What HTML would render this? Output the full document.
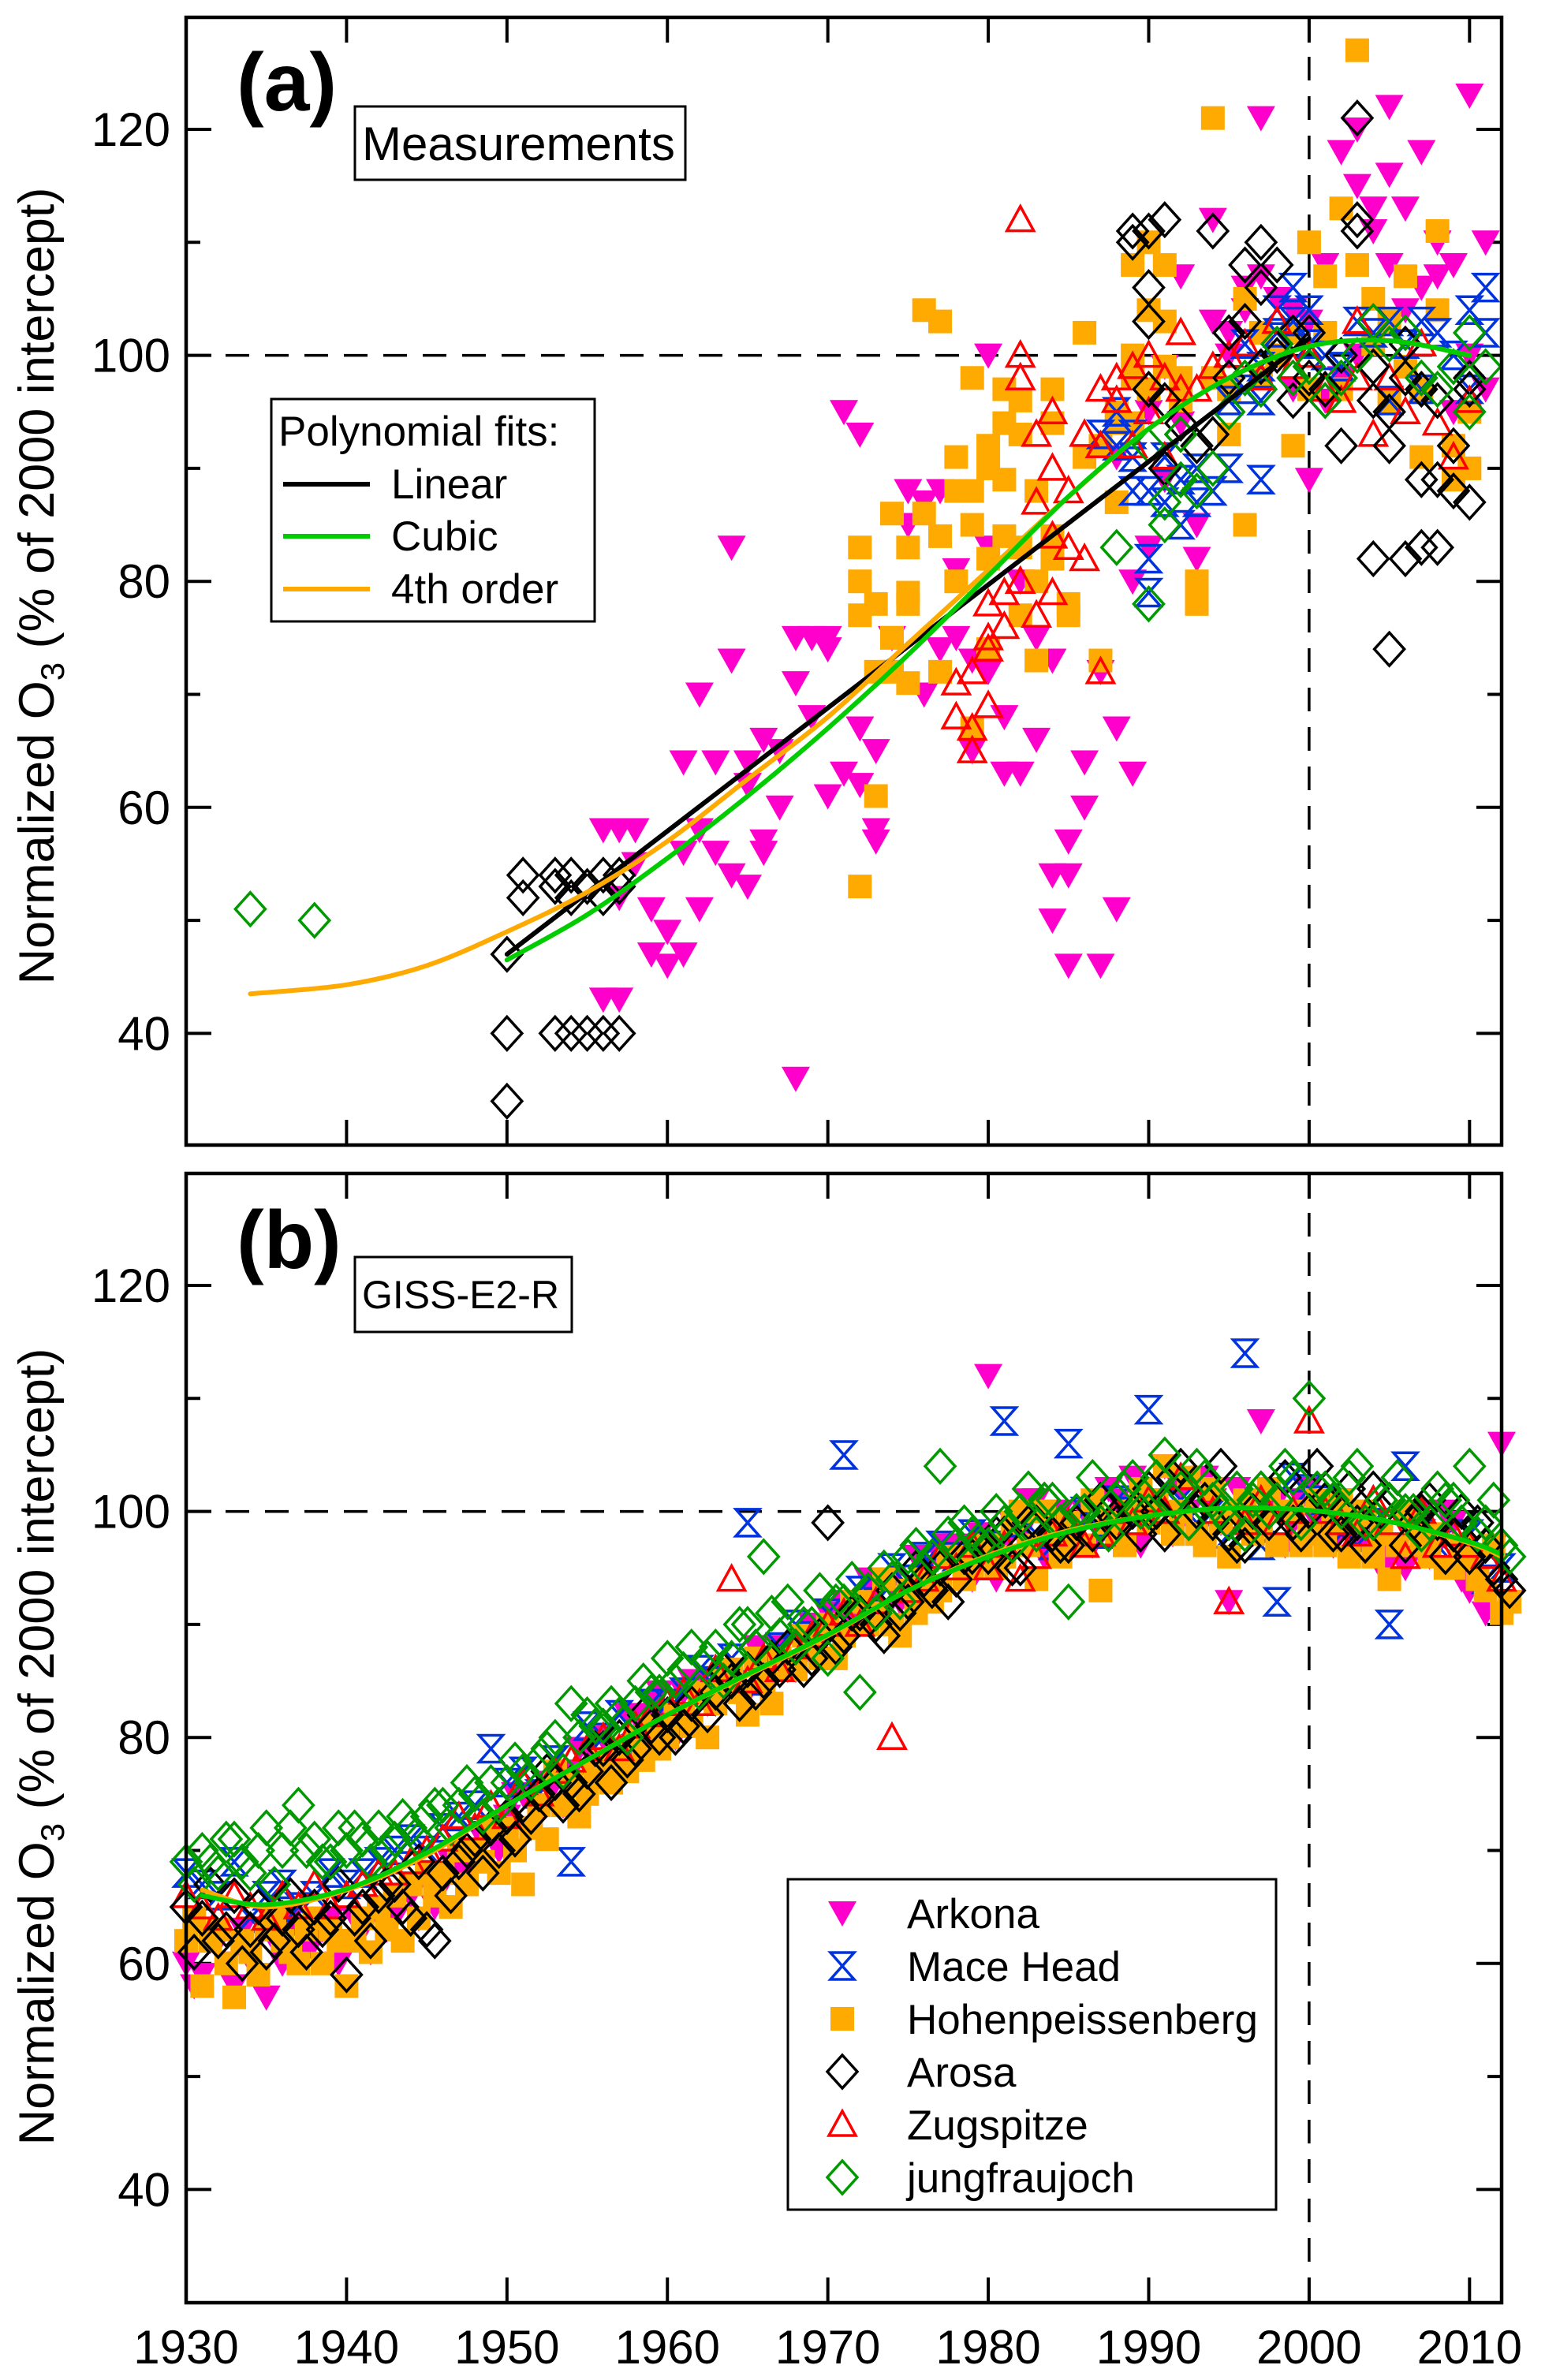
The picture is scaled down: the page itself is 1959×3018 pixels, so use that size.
<!DOCTYPE html>
<html><head><meta charset="utf-8"><style>
html,body{margin:0;padding:0;background:#fff;}
svg{display:block;}
text{font-family:"Liberation Sans",sans-serif;}
</style></head><body>
<svg id="fig" xmlns="http://www.w3.org/2000/svg" width="1959" height="3018" viewBox="0 0 1959 3018">
<rect x="0" y="0" width="1959" height="3018" fill="#fff"/>
<g id="panelA"></g>
<g id="panelB"></g>
<g id="fixed">
  <text x="300" y="140" font-size="104" font-weight="bold">(a)</text>
  <rect x="450" y="135" width="419" height="93" fill="#fff" stroke="#000" stroke-width="3"/>
  <text x="459" y="203" font-size="60">Measurements</text>
  <text x="300" y="1608" font-size="104" font-weight="bold">(b)</text>
  <rect x="450" y="1594" width="275" height="95" fill="#fff" stroke="#000" stroke-width="3"/>
  <text x="459" y="1659" font-size="50">GISS-E2-R</text>
  <text transform="translate(68,743) rotate(-90)" text-anchor="middle" font-size="63">Normalized O<tspan font-size="42" dy="13">3</tspan><tspan dy="-13"> (% of 2000 intercept)</tspan></text>
  <text transform="translate(68,2215) rotate(-90)" text-anchor="middle" font-size="63">Normalized O<tspan font-size="42" dy="13">3</tspan><tspan dy="-13"> (% of 2000 intercept)</tspan></text>
  <g>
    <rect x="344" y="506" width="410" height="282" fill="#fff" stroke="#000" stroke-width="3"/>
    <text x="353" y="565" font-size="53">Polynomial fits:</text>
    <line x1="359" y1="614" x2="469" y2="614" stroke="#000" stroke-width="6"/>
    <text x="496" y="632" font-size="53">Linear</text>
    <line x1="359" y1="680" x2="469" y2="680" stroke="#00cc00" stroke-width="6"/>
    <text x="496" y="698" font-size="53">Cubic</text>
    <line x1="359" y1="747" x2="469" y2="747" stroke="#ffaa00" stroke-width="6"/>
    <text x="496" y="765" font-size="53">4th order</text>
  </g>
  <g id="stLegend">
    <rect x="999" y="2383" width="619" height="419" fill="#fff" stroke="#000" stroke-width="3"/>
    <text x="1150" y="2445" font-size="53">Arkona</text>
    <text x="1150" y="2512" font-size="53">Mace Head</text>
    <text x="1150" y="2579" font-size="53">Hohenpeissenberg</text>
    <text x="1150" y="2646" font-size="53">Arosa</text>
    <text x="1150" y="2713" font-size="53">Zugspitze</text>
    <text x="1150" y="2780" font-size="53">jungfraujoch</text>
  </g>
</g>
</svg>
<script>
// ---------- Panel (a) measurement data: [year, value] ----------
const arkonaA = [[1956,43],[1957,43],[1956,58],[1957,58],[1958,58],[1957,52],[1958,55],[1959,47],[1959,51],[1960,46],[1960,49],[1961,47],[1961,56],[1961,64],[1962,51],[1962,58],[1962,70],[1963,64],[1963,56],[1964,73],[1964,54],[1965,53],[1965,64],[1965,62],[1966,57],[1966,66],[1966,56],[1964,83],[1967,60],[1967,65],[1968,36],[1968,75],[1968,71],[1969,75],[1969,68],[1970,61],[1970,74],[1970,75],[1971,63],[1971,95],[1972,93],[1972,67],[1972,62],[1973,57],[1973,65],[1973,58],[1974,75],[1975,88],[1975,85],[1976,87],[1976,70],[1977,88],[1977,74],[1978,75],[1978,81],[1979,73],[1979,65],[1980,100],[1980,83],[1980,72],[1981,68],[1981,63],[1982,63],[1982,80],[1983,66],[1983,75],[1984,73],[1984,54],[1984,50],[1985,57],[1985,46],[1985,54],[1986,64],[1986,60],[1987,46],[1987,72],[1988,51],[1988,67],[1988,91],[1989,80],[1989,63],[1990,95],[1990,83],[1991,99],[1991,89],[1992,107],[1992,94],[1993,82],[1993,85],[1994,112],[1994,103],[1995,100],[1995,102],[1996,104],[1996,106],[1997,107],[1997,121],[1998,105],[1998,100],[1999,104],[1999,97],[2000,89],[2000,103],[2001,108],[2001,96],[2002,98],[2002,118],[2003,100],[2003,120],[2003,115],[2004,113],[2004,111],[2005,116],[2005,122],[2005,108],[2006,113],[2006,104],[2007,106],[2007,118],[2008,110],[2008,107],[2009,108],[2009,95],[2010,100],[2010,123],[2011,110],[2011,97]];
const hohenA = [[1972,53],[1973,61],[1972,77],[1972,80],[1972,83],[1973,78],[1973,72],[1974,86],[1974,72],[1974,75],[1975,78],[1975,83],[1975,79],[1975,71],[1976,104],[1976,86],[1977,103],[1977,84],[1977,72],[1978,80],[1978,91],[1978,88],[1979,88],[1979,85],[1979,98],[1979,67],[1980,92],[1980,82],[1980,90],[1980,74],[1981,84],[1981,94],[1981,97],[1981,89],[1982,77],[1982,93],[1982,96],[1982,83],[1983,88],[1983,80],[1983,73],[1984,82],[1984,84],[1984,94],[1984,97],[1985,77],[1985,78],[1986,102],[1986,91],[1987,92],[1987,73],[1988,95],[1988,87],[1988,94],[1989,108],[1989,98],[1989,94],[1989,100],[1990,110],[1990,104],[1990,97],[1991,108],[1991,103],[1991,99],[1992,98],[1992,96],[1993,80],[1993,78],[1994,121],[1994,98],[1995,97],[1995,93],[1996,85],[1996,105],[1997,98],[1997,102],[1998,100],[1999,102],[1999,92],[2000,110],[2000,97],[2001,107],[2001,102],[2002,113],[2002,97],[2003,127],[2003,108],[2004,105],[2004,101],[2005,103],[2005,96],[2006,107],[2006,99],[2007,97],[2007,91],[2008,111],[2008,104],[2009,92],[2009,89],[2010,95],[2010,90]];
const maceA = [[1987,93],[1988,95],[1988,92],[1989,91],[1989,88],[1989,93],[1990,82],[1990,79],[1990,88],[1991,91],[1991,87],[1992,89],[1992,85],[1993,90],[1993,87],[1994,88],[1995,90],[1995,96],[1996,101],[1996,97],[1997,96],[1997,99],[1997,89],[1998,104],[1998,102],[1999,106],[1999,103],[2000,101],[2000,104],[2001,100],[2002,99],[2003,103],[2004,102],[2005,103],[2005,96],[2006,101],[2007,103],[2007,97],[2008,102],[2009,100],[2010,104],[2010,97],[2011,106],[2011,102]];
const zugA = [[1978,68],[1978,71],[1979,72],[1979,67],[1979,65],[1980,78],[1980,74],[1980,69],[1980,75],[1981,76],[1981,79],[1982,112],[1982,100],[1982,98],[1982,80],[1983,93],[1983,87],[1983,77],[1984,95],[1984,90],[1984,79],[1984,84],[1985,88],[1985,83],[1986,93],[1986,82],[1987,97],[1987,92],[1987,72],[1988,98],[1988,96],[1989,99],[1989,92],[1990,95],[1990,100],[1991,98],[1991,91],[1992,102],[1992,97],[1993,97],[1994,99],[1995,100],[1996,101],[1997,98],[1998,103],[1999,99],[2000,100],[2001,97],[2002,96],[2003,98],[2003,103],[2004,93],[2005,98],[2006,95],[2007,101],[2008,94],[2009,91],[2010,96]];
const arosaA = [[1950,47],[1950,40],[1950,34],[1951,54],[1951,52],[1953,54],[1953,53],[1953,40],[1954,54],[1954,52],[1954,40],[1955,53],[1955,40],[1956,54],[1956,52],[1956,40],[1957,54],[1957,53],[1957,40],[1989,111],[1989,110],[1990,111],[1990,106],[1990,103],[1990,97],[1991,112],[1991,96],[1991,90],[1992,94],[1992,93],[1993,92],[1994,111],[1994,93],[1995,102],[1995,98],[1996,108],[1996,103],[1997,110],[1997,106],[1997,99],[1998,108],[1998,100],[1999,102],[1999,96],[2000,102],[2000,98],[2001,97],[2001,96],[2002,92],[2002,100],[2003,121],[2003,111],[2003,112],[2004,99],[2004,96],[2005,95],[2005,92],[2005,74],[2006,101],[2006,98],[2006,82],[2007,97],[2007,89],[2007,83],[2008,96],[2008,83],[2008,89],[2009,92],[2009,88],[2010,87],[2010,97],[2010,98],[2004,82]];
const jungA = [[1934,51],[1938,50],[1988,83],[1990,78],[1990,92],[1991,87],[1991,85],[1992,93],[1992,89],[1993,88],[1994,90],[1995,95],[1996,98],[1997,97],[1998,101],[1999,98],[2000,99],[2001,96],[2002,98],[2003,100],[2004,103],[2005,101],[2006,102],[2007,98],[2008,97],[2009,99],[2010,102],[2010,95],[2011,99]];
// Panel (a) fits
const linYearsA = [1950, 2000];
const linValsA = [47, 101.5];
const cubYearsA = [1950,1955,1960,1965,1970,1975,1980,1985,1990,1995,2000,2005,2010];
const cubValsA = [46.5,50.5,55.5,61,67,73.5,80.5,87.5,93.5,98,100.8,101.3,100];
const q4YearsA = [1934,1940,1945,1950,1955,1960,1965,1970,1975,1980,1985,1990,1995,2000,2005,2010];
const q4ValsA = [43.5,44.3,46,49,52.5,57,62.5,68,74.5,81,87.5,93.5,98,100.8,101.3,100];

// ---------- Panel (b) model data: values per year 1930..2012 ----------
const yearStartB = 1930;
const arkonaB = [60,59,62,58,61,57,60,63,62,64, 62,63,65,64,66,68,67,69,70,72, 73,75,74,76,77,79,80,78,82,83, 82,84,85,83,86,84,87,88,86,90, 91,92,90,93,94,92,95,96,97,94, 112,97,98,101,99,97,100,98,101,103, 99,104,102,98,101,92,100,108,101,99, 102,100,101,97,98,96,95,100,97,99, 93,91,106];
const arkonaB2 = [58,62,60,63,59,62,64,61,63,60, 64,61,63,66,64,65,69,68,71,70, 75,72,76,74,79,76,78,82,80,84, 80,85,83,86,84,88,85,86,89,88, 89,90,94,91,92,96,93,97,95,98, 94,99,101,96,100,98,97,102,99,97, 101,98,100,103,99,102,98,100,97,101, 99,97,100,98,95,97,98,96,100,94, 96,97,92];
const maceB = [68,67,66,69,64,66,67,65,66,68, 67,68,69,70,71,70,72,73,74,79, 76,77,75,78,69,81,80,82,79,83, 83,84,86,85,87,99,85,88,90,89, 91,105,93,92,95,94,96,97,96,98, 97,108,99,98,97,106,100,98,101,100, 109,102,101,99,100,98,114,97,92,103, 102,101,98,97,99,90,104,98,97,96, 98,94,95];
const hohenB = [62,58,63,57,61,63,62,60,64,63, 58,64,65,66,67,68,68,70,70,72, 72,67,74,77,76,75,78,79,80,81, 80,82,84,83,86,82,85,87,86,88, 90,89,92,91,90,93,94,93,96,95, 97,96,100,94,98,99,97,93,98,100, 99,104,100,98,102,96,101,99,97,100, 98,97,101,99,96,94,100,97,98,95, 96,93,91];
const hohenB2 = [64,62,60,62,59,64,61,63,60,62, 62,61,63,62,64,66,65,67,69,68, 70,72,71,74,73,77,76,77,78,79, 82,81,80,85,84,87,83,86,89,87, 87,92,90,94,89,91,92,96,94,97, 95,99,97,100,96,97,101,99,97,102, 101,98,103,97,99,100,98,102,100,97, 101,99,96,100,98,97,99,96,95,97, 94,97,92];
const arosaB = [65,64,62,66,63,61,64,63,65,64, 59,65,66,67,64,63,68,69,71,72, 73,74,75,76,76,77,79,80,79,81, 82,81,84,84,85,86,85,86,88,87, 99,89,91,90,93,92,94,95,94,96, 96,98,95,99,98,97,100,101,99,100, 102,98,104,100,99,98,97,102,101,99, 100,101,98,99,102,101,97,100,99,98, 96,97,94];
const arosaB2 = [61,67,63,60,65,62,66,61,63,67, 64,62,67,65,69,62,66,70,68,70, 71,73,77,74,75,79,76,78,82,80, 80,83,82,86,83,84,87,88,86,89, 88,91,93,89,91,95,93,92,96,97, 98,95,99,101,97,99,98,100,102,98, 100,103,99,101,104,97,100,99,103,98, 104,98,102,97,100,103,99,101,96,100, 99,95,93];
const zugB = [66,65,64,66,65,64,66,65,67,65, 66,67,68,68,69,70,71,73,72,74, 73,76,75,77,78,79,80,79,81,82, 83,84,83,86,94,85,87,86,88,89, 90,91,90,92,80,93,94,96,95,97, 95,97,94,96,98,99,97,98,100,99, 101,100,103,101,100,92,99,101,99,100, 108,100,99,98,101,99,96,100,97,98, 97,96,94];
const jungB = [69,70,68,71,68,72,70,74,71,69, 70,71,72,71,72,73,74,74,75,76, 76,77,78,80,83,82,81,82,83,84, 87,86,84,88,87,90,96,89,88,90, 87,92,84,91,94,96,95,104,97,98, 97,99,100,98,101,92,100,99,101,103, 100,105,102,104,101,99,98,102,101,103, 110,102,100,104,99,101,100,98,102,101, 104,99,97];
const jungB2 = [67,69,71,69,70,67,72,70,69,72, 72,69,70,73,71,74,72,76,73,74, 78,76,79,77,80,81,83,80,85,84, 85,88,87,85,90,88,91,92,90,93, 92,94,93,95,92,97,96,98,99,97, 100,97,102,101,99,100,103,98,102,100, 103,101,99,103,100,102,101,100,104,99, 102,101,103,99,101,103,100,99,101,99, 98,101,96];
const fitYearsB = [1931,1935,1940,1945,1950,1955,1960,1965,1970,1975,1980,1985,1990,1995,2000,2005,2010,2012];
const q4ValsB = [66.5,65,66.5,69.6,74,78,82,85.5,89,93,96.1,98.3,99.6,100.3,100.1,99.1,97.2,96];
const cubValsB = [66,65.2,66.6,69.8,74,78,82,85.6,89.1,93,96,98.2,99.6,100.3,100.1,99.1,97.3,96.2];

const xTicks = [1930,1940,1950,1960,1970,1980,1990,2000,2010];
const yTicks = [40,60,80,100,120];
const yMinor = [30,50,70,90,110,130];

// ---------- axes ----------
const NS = 'http://www.w3.org/2000/svg';
const X0 = 236, X1 = 1904, YEAR0 = 1930, PXY = (X1 - X0) / 82;
function xs(yr){ return X0 + (yr - YEAR0) * PXY; }
const PXV = 14.33;
const panels = {
  a: {top: 22, bottom: 1452, y120: 164, g: document.getElementById('panelA')},
  b: {top: 1488, bottom: 2920, y120: 1630, g: document.getElementById('panelB')}
};
function ys(p, v){ return panels[p].y120 + (120 - v) * PXV; }
function mk(tag, attrs, parent){
  const e = document.createElementNS(NS, tag);
  for (const k in attrs) e.setAttribute(k, attrs[k]);
  parent.appendChild(e);
  return e;
}

function drawMarker(kind, x, y, parent){
  let e;
  if (kind === 'arkona'){
    e = mk('polygon', {points: `${x-18},${y-15} ${x+18},${y-15} ${x},${y+17}`, fill: '#ff00cc'}, parent);
  } else if (kind === 'mace'){
    e = mk('polygon', {points: `${x-15},${y-17} ${x+15},${y-17} ${x-15},${y+17} ${x+15},${y+17}`, fill: 'none', stroke: '#0033dd', 'stroke-width': 3.5}, parent);
  } else if (kind === 'hohen'){
    e = mk('rect', {x: x-15, y: y-15, width: 30, height: 30, fill: '#ffaa00'}, parent);
  } else if (kind === 'arosa'){
    e = mk('polygon', {points: `${x},${y-21} ${x+19},${y} ${x},${y+21} ${x-19},${y}`, fill: 'none', stroke: '#000', 'stroke-width': 3.5}, parent);
  } else if (kind === 'zug'){
    e = mk('polygon', {points: `${x},${y-17} ${x+17},${y+14} ${x-17},${y+14}`, fill: 'none', stroke: '#ff0000', 'stroke-width': 3.5}, parent);
  } else {
    e = mk('polygon', {points: `${x},${y-21} ${x+19},${y} ${x},${y+21} ${x-19},${y}`, fill: 'none', stroke: '#009900', 'stroke-width': 3.5}, parent);
  }
  return e;
}

function smoothPath(pts){
  let d = `M${pts[0][0]},${pts[0][1]}`;
  for (let i = 0; i < pts.length - 1; i++){
    const p0 = pts[Math.max(0, i-1)], p1 = pts[i], p2 = pts[i+1], p3 = pts[Math.min(pts.length-1, i+2)];
    const c1x = p1[0] + (p2[0]-p0[0])/6, c1y = p1[1] + (p2[1]-p0[1])/6;
    const c2x = p2[0] - (p3[0]-p1[0])/6, c2y = p2[1] - (p3[1]-p1[1])/6;
    d += ` C${c1x},${c1y} ${c2x},${c2y} ${p2[0]},${p2[1]}`;
  }
  return d;
}

function drawAxes(p){
  const P = panels[p], g = P.g;
  const h = mk('line', {x1: X0, x2: X1, y1: ys(p,100), y2: ys(p,100), stroke: '#000', 'stroke-width': 3.5, 'stroke-dasharray': '30 20'}, g);
  
  
  const v = mk('line', {x1: xs(2000), x2: xs(2000), y1: P.top, y2: P.bottom, stroke: '#000', 'stroke-width': 3.5, 'stroke-dasharray': '30 20'}, g);
  
  
  for (const t of xTicks){
    const x = xs(t);
    const tb = mk('line', {x1: x, x2: x, y1: P.bottom, y2: P.bottom-32, stroke: '#000', 'stroke-width': 4}, g);
    
    
    const tt = mk('line', {x1: x, x2: x, y1: P.top, y2: P.top+32, stroke: '#000', 'stroke-width': 4}, g);
    
    
    if (p === 'b'){
      const lab = mk('text', {x: x, y: 2997, 'text-anchor': 'middle', 'font-size': 60}, g);
      lab.textContent = String(t);
      
      
    }
  }
  for (const t of yTicks){
    const y = ys(p, t);
    const tl = mk('line', {x1: X0, x2: X0+32, y1: y, y2: y, stroke: '#000', 'stroke-width': 4}, g);
    
    
    const tr = mk('line', {x1: X1, x2: X1-32, y1: y, y2: y, stroke: '#000', 'stroke-width': 4}, g);
    
    
    const lab = mk('text', {x: 216, y: y+21, 'text-anchor': 'end', 'font-size': 60}, g);
    lab.textContent = String(t);
    
    
  }
  for (const t of yMinor){
    const y = ys(p, t);
    if (y <= P.top + 2 || y >= P.bottom - 2) continue;
    const tl = mk('line', {x1: X0, x2: X0+18, y1: y, y2: y, stroke: '#000', 'stroke-width': 4}, g);
    
    
    const tr = mk('line', {x1: X1, x2: X1-18, y1: y, y2: y, stroke: '#000', 'stroke-width': 4}, g);
    
    
  }
}
function drawFrame(p){
  const P = panels[p];
  const f = mk('rect', {x: X0, y: P.top, width: X1-X0, height: P.bottom-P.top, fill: 'none', stroke: '#000', 'stroke-width': 4.5}, P.g);
  
  
}

function drawPairs(p, kind, arr, name){
  const grp = mk('g', {}, panels[p].g);
  
  
  for (const [yr, v] of arr){
    const m = drawMarker(kind, xs(yr), ys(p, v), grp);
    
    
  }
}
function drawYearly(p, kind, arr, name, shift){
  const grp = mk('g', {}, panels[p].g);
  
  
  arr.forEach((v, i) => {
    const m = drawMarker(kind, xs(yearStartB + i + (shift || 0)), ys(p, v), grp);
    
    
  });
}
function drawCurve(p, years, vals, color, name){
  const pts = years.map((yr, i) => [xs(yr), ys(p, vals[i])]);
  const c = mk('path', {d: smoothPath(pts), fill: 'none', stroke: color, 'stroke-width': 6, 'stroke-linecap': 'round'}, panels[p].g);
  
  
}

// panel a
drawAxes('a');
drawPairs('a', 'arkona', arkonaA, 'series-arkona-a');
drawPairs('a', 'hohen', hohenA, 'series-hohenpeissenberg-a');
drawPairs('a', 'mace', maceA, 'series-mace-head-a');
drawPairs('a', 'zug', zugA, 'series-zugspitze-a');
drawPairs('a', 'arosa', arosaA, 'series-arosa-a');
drawPairs('a', 'jung', jungA, 'series-jungfraujoch-a');
drawCurve('a', linYearsA, linValsA, '#000', 'fit-linear-a');
drawCurve('a', q4YearsA, q4ValsA, '#ffaa00', 'fit-4th-order-a');
drawCurve('a', cubYearsA, cubValsA, '#00cc00', 'fit-cubic-a');
drawFrame('a');

// panel b
drawAxes('b');
drawYearly('b', 'arkona', arkonaB, 'series-arkona-b', 0);
drawYearly('b', 'arkona', arkonaB2, 'series-arkona-b-2', 0.5);
drawYearly('b', 'mace', maceB, 'series-mace-head-b', 0);
drawYearly('b', 'hohen', hohenB, 'series-hohenpeissenberg-b', 0);
drawYearly('b', 'hohen', hohenB2, 'series-hohenpeissenberg-b-2', 0.5);
drawYearly('b', 'zug', zugB, 'series-zugspitze-b', 0);
drawYearly('b', 'arosa', arosaB, 'series-arosa-b', 0);
drawYearly('b', 'arosa', arosaB2, 'series-arosa-b-2', 0.5);
drawYearly('b', 'jung', jungB, 'series-jungfraujoch-b', 0);
drawYearly('b', 'jung', jungB2, 'series-jungfraujoch-b-2', 0.5);
drawCurve('b', fitYearsB, q4ValsB, '#ffaa00', 'fit-4th-order-b');
drawCurve('b', fitYearsB, cubValsB, '#00cc00', 'fit-cubic-b');
drawFrame('b');

const svg = document.getElementById('fig');
const fixed = document.getElementById('fixed');
svg.appendChild(fixed);
const leg = document.getElementById('stLegend');
const legKinds = ['arkona','mace','hohen','arosa','zug','jung'];
legKinds.forEach((k, i) => {
  const m = drawMarker(k, 1068, 2426 + i*67, leg);
  
  
});
</script>
</body></html>
